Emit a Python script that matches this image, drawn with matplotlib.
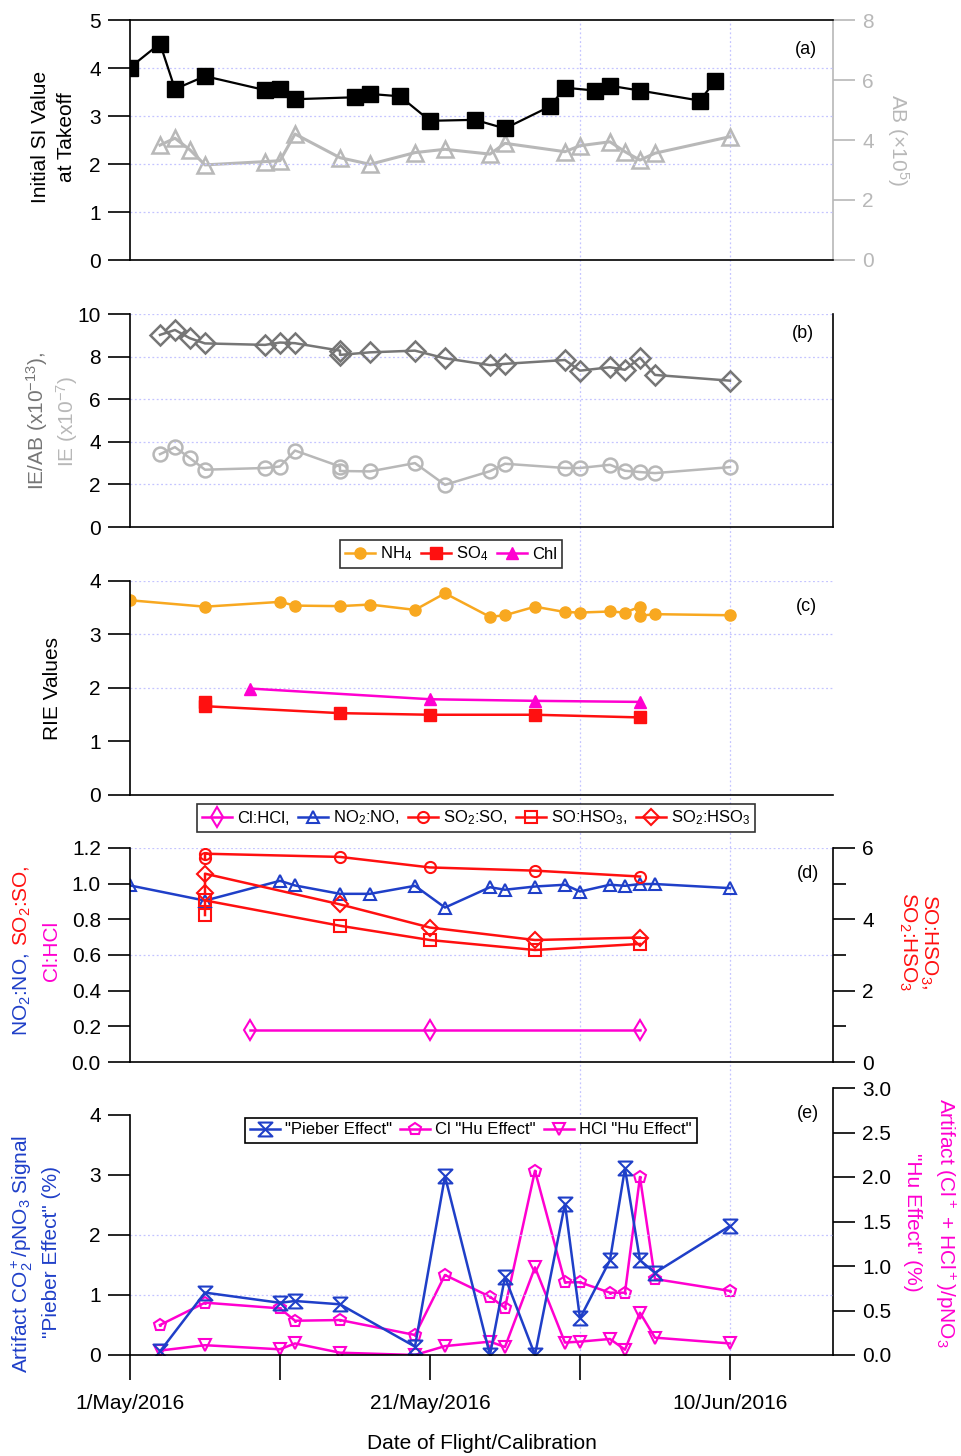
import numpy as np
import pandas as pd
import matplotlib
matplotlib.use("Agg")
import matplotlib.pyplot as plt
from matplotlib.path import Path
from matplotlib.ticker import FixedLocator, FuncFormatter
import matplotlib.dates as mdates

plt.rcParams['font.family'] = ['Liberation Sans', 'DejaVu Sans']
plt.rcParams['mathtext.fontset'] = 'custom'
plt.rcParams['mathtext.rm'] = 'Liberation Sans'
plt.rcParams['mathtext.it'] = 'Liberation Sans:italic'
plt.rcParams['mathtext.default'] = 'regular'

# kunlar: 1 maydan boshlab
a_days = [0, 2, 3, 5, 9, 10, 11, 15, 16, 18, 20, 23, 25, 28, 29, 31, 32, 34, 38, 39]
a_si = [4.01, 4.51, 3.56, 3.83, 3.54, 3.56, 3.35, 3.39, 3.46, 3.41,
        2.90, 2.92, 2.74, 3.20, 3.59, 3.53, 3.63, 3.53, 3.32, 3.73]
ab_days = [2, 3, 4, 5, 9, 10, 11, 14, 16, 19, 21, 24, 25, 29, 30, 32, 33, 34, 35, 40]
ab_vals = [3.83, 4.06, 3.67, 3.17, 3.28, 3.31, 4.20, 3.41, 3.19, 3.58,
           3.69, 3.53, 3.89, 3.61, 3.81, 3.94, 3.61, 3.33, 3.56, 4.11]

b_days = [2, 3, 4, 5, 9, 10, 11, 14, 14, 16, 19, 21, 24, 25, 29, 30, 32, 33, 34, 35, 40]
b_ieab = [9.02, 9.25, 8.86, 8.62, 8.55, 8.66, 8.63, 8.28, 8.08, 8.20, 8.28,
          7.92, 7.60, 7.66, 7.84, 7.34, 7.50, 7.38, 7.95, 7.14, 6.87]
b_ie = [3.42, 3.75, 3.23, 2.69, 2.77, 2.84, 3.59, 2.84, 2.63, 2.61, 3.00,
        1.98, 2.62, 2.97, 2.77, 2.77, 2.92, 2.64, 2.58, 2.53, 2.81]

nh4_days = [0, 5, 10, 11, 14, 16, 19, 21, 24, 25, 27, 29, 30, 32, 33, 34, 34, 35, 40]
nh4 = [3.64, 3.52, 3.61, 3.54, 3.53, 3.56, 3.46, 3.77, 3.33, 3.36,
       3.52, 3.42, 3.41, 3.43, 3.41, 3.52, 3.35, 3.38, 3.36]
so4_days = [5, 5, 14, 20, 27, 34]
so4 = [1.73, 1.66, 1.53, 1.50, 1.50, 1.45]
chl_days = [8, 20, 27, 34]
chl = [1.99, 1.79, 1.76, 1.74]

clhcl_days = [8, 20, 34]
clhcl = [0.18, 0.18, 0.18]
no2no_days = [0, 5, 10, 11, 14, 16, 19, 21, 24, 25, 27, 29, 30, 32, 33, 34, 35, 40]
no2no = [0.99, 0.905, 1.016, 0.99, 0.943, 0.943, 0.988, 0.866, 0.98, 0.966,
         0.984, 0.994, 0.956, 0.994, 0.988, 0.998, 0.998, 0.975]
so_days = [5, 5, 14, 20, 27, 34]
so2so = [1.144, 1.168, 1.15, 1.091, 1.073, 1.04]
sohso3 = [4.12, 4.53, 3.82, 3.42, 3.14, 3.31]
so2hso3 = [4.75, 5.28, 4.42, 3.77, 3.42, 3.49]

e_days = [2, 5, 10, 11, 14, 19, 21, 24, 25, 27, 29, 30, 32, 33, 34, 35, 40]
pieber = [0.06, 1.04, 0.87, 0.90, 0.845, 0.14, 2.98, 0.0, 1.30, 0.0,
          2.52, 0.61, 1.58, 3.11, 1.58, 1.37, 2.15]
cl_hu = [0.337, 0.588, 0.524, 0.385, 0.393, 0.225, 0.899, 0.655, 0.53, 2.07,
         0.817, 0.817, 0.70, 0.70, 2.0, 0.854, 0.72]
hcl_hu = [0.05, 0.11, 0.064, 0.13, 0.026, 0.0, 0.10, 0.15, 0.09, 0.985,
          0.14, 0.15, 0.18, 0.06, 0.475, 0.195, 0.13]

BLUE = "#1f3fc8"
RED = "#ff1010"
MAG = "#ff00d0"
ORANGE = "#f8a820"
LGRAY = "#b8b8b8"
DGRAY = "#767676"
GRID = "#c4c4ff"

W, H = 962, 1456
fig = plt.figure(figsize=(W / 100, H / 100), dpi=100)

start = pd.Timestamp("2016-05-01")


def sana(kunlar):
    return start + pd.to_timedelta(np.array(kunlar, dtype=float), unit="D")


XL = (start, start + pd.Timedelta(days=46.87))


def rect(x0, y0, x1, y1):
    return [x0 / W, 1 - y1 / H, (x1 - x0) / W, (y1 - y0) / H]


def bezak(ax, left=True, right=False, top=False, bottom=True):
    ax.patch.set_alpha(0)
    ax.set_xlim(XL)
    for k, v in dict(left=left, right=right, top=top, bottom=bottom).items():
        ax.spines[k].set_visible(v)
        ax.spines[k].set_linewidth(1.2)
    ax.tick_params(axis='y', direction='out', length=16, width=1.2,
                   labelsize=15, pad=5)
    ax.tick_params(axis='x', bottom=False, labelbottom=False)


def hgrid(ax, vals):
    for v in vals:
        ax.axhline(v, color=GRID, lw=0.9, ls=(0, (1.5, 2)), zorder=0)


# vertikal grid butun rasm boylab
ax_bg = fig.add_axes(rect(130, 20, 833, 1355), zorder=0)
ax_bg.set_xlim(XL)
ax_bg.axis('off')
for t in sana([30, 40]):
    ax_bg.axvline(t, color=GRID, lw=0.9, ls=(0, (1.5, 2)))

# (a)
ax_a = fig.add_axes(rect(130, 20, 833, 260), zorder=2)
bezak(ax_a, top=True)
ax_a.set_ylim(0, 5)
ax_a.set_yticks(range(6))
hgrid(ax_a, [1, 2, 3, 4])
ax_a2 = ax_a.twinx()
ax_a2.patch.set_alpha(0)
ax_a2.set_ylim(0, 8)
ax_a2.set_yticks([0, 2, 4, 6, 8])
for k in ['left', 'top', 'bottom']:
    ax_a2.spines[k].set_visible(False)
ax_a2.spines['right'].set_color(LGRAY)
ax_a2.spines['right'].set_linewidth(1.2)
ax_a2.tick_params(axis='y', direction='out', length=16, width=1.2,
                  labelsize=15, pad=5, colors=LGRAY)
ax_a2.plot(sana(ab_days), ab_vals, '-^', color=LGRAY, lw=2.2, ms=12,
           mfc='none', mew=1.8)
ax_a.plot(sana(a_days), a_si, '-s', color='black', lw=1.6, ms=11)
ax_a.set_zorder(3)
ax_a2.set_zorder(2)
fig.text(40 / W, 1 - 137 / H, "Initial SI Value", rotation=90, fontsize=15,
         ha='center', va='center')
fig.text(66 / W, 1 - 137 / H, "at Takeoff", rotation=90, fontsize=15,
         ha='center', va='center')
fig.text(898 / W, 1 - 140 / H, "AB (\u00d710$^5$)", rotation=270, fontsize=15,
         ha='center', va='center', color=LGRAY)
fig.text(806 / W, 1 - 50 / H, "(a)", fontsize=13, ha='center', va='center')

# (b)
ax_b = fig.add_axes(rect(130, 314, 833, 527), zorder=2)
bezak(ax_b, right=True)
ax_b.set_ylim(0, 10)
ax_b.set_yticks(range(0, 11, 2))
hgrid(ax_b, [2, 4, 6, 8, 10])
ax_b.plot(sana(b_days), b_ieab, '-D', color=DGRAY, lw=1.8, ms=10,
          mfc='none', mew=1.8)
ax_b.plot(sana(b_days), b_ie, '-o', color=LGRAY, lw=1.8, ms=10,
          mfc='none', mew=1.8)
fig.text(37 / W, 1 - 421 / H, "IE/AB (x10$^{-13}$),", rotation=90, fontsize=15,
         ha='center', va='center', color=DGRAY)
fig.text(67 / W, 1 - 421 / H, "IE (x10$^{-7}$)", rotation=90, fontsize=15,
         ha='center', va='center', color=LGRAY)
fig.text(803 / W, 1 - 334 / H, "(b)", fontsize=13, ha='center', va='center')

# (c)
ax_c = fig.add_axes(rect(130, 581, 833, 795), zorder=2)
bezak(ax_c)
ax_c.set_ylim(0, 4)
ax_c.set_yticks(range(5))
hgrid(ax_c, [2, 3, 4])
l_nh4, = ax_c.plot(sana(nh4_days), nh4, '-o', color=ORANGE, lw=1.8, ms=8)
l_so4, = ax_c.plot(sana(so4_days), so4, '-s', color=RED, lw=1.8, ms=8)
l_chl, = ax_c.plot(sana(chl_days), chl, '-^', color=MAG, lw=1.8, ms=8)
fig.text(52 / W, 1 - 688 / H, "RIE Values", rotation=90, fontsize=15,
         ha='center', va='center')
fig.text(806 / W, 1 - 606 / H, "(c)", fontsize=13, ha='center', va='center')
leg_c = fig.legend([l_nh4, l_so4, l_chl], ["NH$_4$", "SO$_4$", "Chl"],
                   loc='center', bbox_to_anchor=(451 / W, 1 - 554 / H), ncol=3,
                   fontsize=12, frameon=True, fancybox=False, edgecolor='black',
                   handlelength=1.8, handletextpad=0.3, columnspacing=0.5,
                   borderpad=0.3, borderaxespad=0, numpoints=1)
leg_c.get_frame().set_linewidth(1.2)

# (d)
ax_d = fig.add_axes(rect(130, 848, 833, 1062), zorder=3)
bezak(ax_d)
ax_d.set_ylim(0, 1.2)
ax_d.set_yticks(np.arange(0, 1.21, 0.2))
ax_d.yaxis.set_major_formatter(FuncFormatter(lambda v, p: f"{v:.1f}"))
hgrid(ax_d, [0.6, 1.2])
ax_d2 = ax_d.twinx()
ax_d2.patch.set_alpha(0)
ax_d2.set_ylim(0, 6)
ax_d2.set_yticks([0, 2, 4, 6])
ax_d2.yaxis.set_minor_locator(FixedLocator([1, 3, 5]))
for k in ['left', 'top', 'bottom']:
    ax_d2.spines[k].set_visible(False)
ax_d2.spines['right'].set_linewidth(1.2)
ax_d2.tick_params(axis='y', which='major', direction='out', length=16,
                  width=1.2, labelsize=15, pad=5)
ax_d2.tick_params(axis='y', which='minor', direction='out', length=9, width=1.2)
l_sq, = ax_d2.plot(sana(so_days), sohso3, '-s', color=RED, lw=1.8, ms=8,
                   mfc='none', mew=1.5)
l_dm, = ax_d2.plot(sana(so_days), so2hso3, '-D', color=RED, lw=1.8, ms=8,
                   mfc='none', mew=1.5)
l_cl, = ax_d.plot(sana(clhcl_days), clhcl, '-d', color=MAG, lw=1.8, ms=10,
                  mfc='none', mew=1.5)
l_no, = ax_d.plot(sana(no2no_days), no2no, '-^', color=BLUE, lw=1.8, ms=9,
                  mfc='none', mew=1.5)
l_so, = ax_d.plot(sana(so_days), so2so, '-o', color=RED, lw=1.8, ms=8,
                  mfc='none', mew=1.5)
fig.text(808 / W, 1 - 873 / H, "(d)", fontsize=13, ha='center', va='center')
fig.text(52 / W, 1 - 951 / H, "Cl:HCl", rotation=90, fontsize=15,
         ha='center', va='center', color=MAG)
fig.text(918 / W, 1 - 942 / H, "SO:HSO$_3$,\nSO$_2$:HSO$_3$", rotation=270,
         fontsize=15, ha='center', va='center', color=RED, linespacing=1.0)
leg_d = fig.legend([l_cl, l_no, l_so, l_sq, l_dm],
                   ["Cl:HCl,", "NO$_2$:NO,", "SO$_2$:SO,", "SO:HSO$_3$,",
                    "SO$_2$:HSO$_3$"],
                   loc='center', bbox_to_anchor=(476 / W, 1 - 818 / H), ncol=5,
                   fontsize=12, frameon=True, fancybox=False, edgecolor='black',
                   handlelength=1.8, handletextpad=0.3, columnspacing=0.5,
                   borderpad=0.3, borderaxespad=0, numpoints=1)
leg_d.get_frame().set_linewidth(1.2)

# (e)
qum_soat = Path([(-1, 1), (1, 1), (-1, -1), (1, -1), (-1, 1)],
                [Path.MOVETO, Path.LINETO, Path.LINETO, Path.LINETO,
                 Path.CLOSEPOLY])
ax_e = fig.add_axes(rect(130, 1088, 833, 1355), zorder=3)
bezak(ax_e)
ax_e.set_ylim(0, 4 * 267 / 240)
ax_e.set_yticks(range(5))
ax_e.spines['left'].set_bounds(0, 4)
hgrid(ax_e, [1, 2])
ax_e2 = ax_e.twinx()
ax_e2.patch.set_alpha(0)
ax_e2.set_ylim(0, 3)
ax_e2.set_yticks(np.arange(0, 3.01, 0.5))
ax_e2.yaxis.set_major_formatter(FuncFormatter(lambda v, p: f"{v:.1f}"))
for k in ['left', 'top', 'bottom']:
    ax_e2.spines[k].set_visible(False)
ax_e2.spines['right'].set_linewidth(1.2)
ax_e2.tick_params(axis='y', direction='out', length=16, width=1.2,
                  labelsize=15, pad=5)
l_hcl, = ax_e2.plot(sana(e_days), hcl_hu, '-v', color=MAG, lw=1.8, ms=9,
                    mfc='none', mew=1.5)
l_clh, = ax_e2.plot(sana(e_days), cl_hu, '-p', color=MAG, lw=1.8, ms=9,
                    mfc='none', mew=1.5)
ax_e2.plot(sana(e_days), cl_hu, '.', color=MAG, ms=2.5)
l_pb, = ax_e.plot(sana(e_days), pieber, '-', marker=qum_soat, color=BLUE,
                  lw=1.8, ms=10, mfc='none', mew=1.5)
ax_e.set_zorder(4)
ax_e2.set_zorder(3)

kun_ticks = sana([0, 20, 40])
ax_e.set_xticks(kun_ticks)
ax_e.set_xticks(sana([10, 30]), minor=True)
ax_e.xaxis.set_major_formatter(FuncFormatter(
    lambda v, p: (lambda dd: f"{dd.day}/{dd.strftime('%b')}/{dd.year}")(mdates.num2date(v))))
ax_e.tick_params(axis='x', which='both', bottom=True, labelbottom=True,
                 direction='out', width=1.2, labelsize=15, pad=10)
ax_e.tick_params(axis='x', which='major', length=18)
ax_e.tick_params(axis='x', which='minor', length=18)
ax_e.set_xlabel("Date of Flight/Calibration", fontsize=15, labelpad=15)

fig.text(22 / W, 1 - 1254 / H, "Artifact CO$_2^+$/pNO$_3$ Signal", rotation=90,
         fontsize=15, ha='center', va='center', color=BLUE)
fig.text(52 / W, 1 - 1252 / H, "\"Pieber Effect\" (%)", rotation=90,
         fontsize=15, ha='center', va='center', color=BLUE)
fig.text(945 / W, 1 - 1223 / H, "Artifact (Cl$^+$ + HCl$^+$)/pNO$_3$",
         rotation=270, fontsize=15, ha='center', va='center', color=MAG)
fig.text(913 / W, 1 - 1222 / H, "\"Hu Effect\" (%)",
         rotation=270, fontsize=15, ha='center', va='center', color=MAG)
fig.text(808 / W, 1 - 1113 / H, "(e)", fontsize=13, ha='center', va='center')
leg_e = ax_e.legend([l_pb, l_clh, l_hcl],
                    ["\"Pieber Effect\"", "Cl \"Hu Effect\"", "HCl \"Hu Effect\""],
                    loc='center', bbox_to_anchor=(471 / W, 1 - 1130 / H),
                    bbox_transform=fig.transFigure, ncol=3,
                    fontsize=12, frameon=True, fancybox=False, edgecolor='black',
                    handlelength=1.8, handletextpad=0.3, columnspacing=0.5,
                    borderpad=0.3, borderaxespad=0, numpoints=1, framealpha=1)
leg_e.get_frame().set_linewidth(1.2)

# (d) chap yozuv: ikki rangli
renderer = fig.canvas.get_renderer()
qismlar = [("NO$_2$:NO,", BLUE), ("SO$_2$:SO,", RED)]
yozuvlar = []
uzunlik = []
for s, c in qismlar:
    t = fig.text(0, 0, s, rotation=90, fontsize=15, color=c,
                 ha='center', va='bottom')
    yozuvlar.append(t)
    uzunlik.append(t.get_window_extent(renderer).height)
orasi = 7
jami = sum(uzunlik) + orasi * (len(uzunlik) - 1)
y = (H - 951) - jami / 2
for t, h in zip(yozuvlar, uzunlik):
    t.set_position((22 / W, y / H))
    y += h + orasi

fig.savefig("out.png", dpi=100)
